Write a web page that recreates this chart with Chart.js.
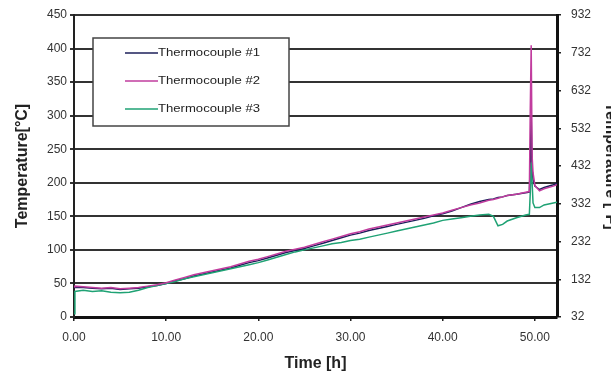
<!DOCTYPE html>
<html>
<head>
<meta charset="utf-8">
<script src="https://cdn.jsdelivr.net/npm/chart.js@4/dist/chart.umd.min.js"></script>
<style>
  html, body { margin: 0; padding: 0; background: #fff; }
  #wrap { width: 611px; height: 379px; overflow: hidden; position: relative; }
  canvas { display: block; }
</style>
</head>
<body>
<div id="wrap"><canvas id="myChart" width="622" height="379"></canvas></div>
<script>
// time in hours
var times = [0, 0.1, 1, 2, 3, 4, 5, 6, 7, 8, 9, 10,
  11, 12, 13, 14, 15, 16, 17, 18, 19, 20,
  21, 22, 23, 24, 25, 26, 27, 28, 29, 30,
  31, 32, 33, 34, 35, 36, 37, 38, 39, 40,
  41, 42, 43, 44, 45,
  45.5, 46, 46.5, 47, 48, 49, 49.4, 49.5, 49.6, 49.7, 49.8, 50, 50.5, 51, 52, 52.4];

var tc1 = [44, 44, 44, 43, 42, 43, 41, 42, 43, 45, 47, 50,
  54, 57, 61, 64, 67, 70, 73, 77, 81, 84,
  88, 92, 96, 99, 102, 106, 110, 114, 118, 122,
  125, 129, 132, 135, 138, 141, 144, 147, 151, 154,
  158, 163, 168, 172, 175,
  176, 178, 179, 181, 183, 185, 186, 230, 300, 220, 205, 195, 190, 193, 197, 199];

var tc2 = [45, 46, 45, 44, 43, 44, 42, 43, 44, 46, 48, 51,
  55, 59, 63, 66, 69, 72, 75, 79, 83, 86,
  90, 94, 98, 101, 104, 108, 112, 116, 120, 124,
  127, 131, 134, 137, 140, 143, 146, 149, 152, 155,
  159, 163, 167, 170, 174,
  175, 177, 179, 181, 183, 186, 187, 310, 405, 240, 215, 196, 188, 191, 195, 197];

var tc3 = [5, 38, 40, 38, 39, 37, 36, 37, 40, 44, 47, 50,
  53, 57, 60, 63, 66, 69, 72, 75, 78, 81,
  85, 89, 93, 97, 100, 103, 106, 109, 111, 114,
  116, 119, 122, 125, 128, 131, 134, 137, 140, 144,
  146, 148, 150, 152, 153,
  150, 136, 138, 143, 148, 152, 153, 185, 230, 200, 170, 163, 163, 167, 170, 171];

var seriesNames = ["Thermocouple #1", "Thermocouple #2", "Thermocouple #3"];
var seriesColors = ["#1c1f5a", "#c13c9e", "#1fa274"];
var drawOrder = [2, 0, 1];

var xTicks = [0, 10, 20, 30, 40, 50];
var rightTicks = [32, 132, 232, 332, 432, 532, 632, 732, 832];
var rightTickLabels = ["32", "132", "232", "332", "432", "532", "632", "732", "932"];

function toPoints(vals) {
  return vals.map(function (v, i) { return { x: times[i], y: v }; });
}

var tickFont = { family: "'Liberation Sans', Arial, sans-serif", size: 12 };
var titleFont = { family: "'Liberation Sans', Arial, sans-serif", size: 16, weight: "bold" };

// legend box drawn inside the plot
var boxLegend = {
  id: "boxLegend",
  afterDatasetsDraw: function (chart) {
    var ctx = chart.ctx;
    ctx.save();
    ctx.fillStyle = "#fff";
    ctx.fillRect(93, 38, 196, 88);
    ctx.strokeStyle = "#444";
    ctx.lineWidth = 1.5;
    ctx.strokeRect(93, 38, 196, 88);
    ctx.font = "11px 'Liberation Sans', Arial, sans-serif";
    ctx.textBaseline = "middle";
    chart.data.datasets.forEach(function (ds, i) {
      var y = 53 + i * 28;
      ctx.strokeStyle = ds.borderColor;
      ctx.lineWidth = 1.3;
      ctx.beginPath();
      ctx.moveTo(125, y);
      ctx.lineTo(158, y);
      ctx.stroke();
      // stretch text to the wide look of the original
      var w = ctx.measureText(ds.label).width;
      ctx.save();
      ctx.translate(158, y);
      ctx.scale(102 / w, 1);
      ctx.fillStyle = "#222";
      ctx.fillText(ds.label, 0, 0);
      ctx.restore();
    });
    ctx.restore();
  }
};

new Chart("myChart", {
  type: "line",
  data: {
    datasets: [0, 1, 2].map(function (i) {
      return {
        label: seriesNames[i],
        data: toPoints([tc1, tc2, tc3][i]),
        borderColor: seriesColors[i],
        borderWidth: 1.5,
        pointRadius: 0,
        tension: 0,
        order: drawOrder[i]
      };
    })
  },
  options: {
    responsive: false,
    animation: false,
    devicePixelRatio: 1,
    layout: { padding: { top: 15, left: 0, right: 0, bottom: 0 } },
    plugins: { legend: { display: false }, tooltip: { enabled: false } },
    scales: {
      x: {
        type: "linear",
        min: 0,
        max: 52.4,
        afterBuildTicks: function (s) { s.ticks = xTicks.map(function (v) { return { value: v }; }); },
        afterFit: function (s) { s.height = 62; s.paddingLeft = 0; s.paddingRight = 0; },
        ticks: { font: tickFont, color: "#333", padding: 9, maxRotation: 0,
          callback: function (v) { return Number(v).toFixed(2); } },
        grid: { drawOnChartArea: false, tickLength: 4, color: "#222", lineWidth: 1.5 },
        border: { color: "#111", width: 3 },
        title: { display: true, text: "Time [h]", font: titleFont, color: "#222", padding: { top: 6, bottom: 6 } }
      },
      y: {
        position: "left",
        min: 0,
        max: 450,
        ticks: { stepSize: 50, font: tickFont, color: "#333", padding: 3 },
        afterFit: function (s) { s.width = 74; s.paddingTop = 0; s.paddingBottom = 0; },
        grid: { color: "#333", lineWidth: 2, tickLength: 4 },
        border: { color: "#222", width: 2 },
        title: { display: true, text: "Temperature[\u00b0C]", font: titleFont, color: "#222", padding: { top: 13, bottom: 0 } }
      },
      y2: {
        position: "right",
        min: 32,
        max: 832,
        afterBuildTicks: function (s) { s.ticks = rightTicks.map(function (v) { return { value: v }; }); },
        afterFit: function (s) { s.width = 622 - 557; s.paddingTop = 0; s.paddingBottom = 0; },
        ticks: { font: tickFont, color: "#333", padding: 10,
          callback: function (v, i) { return rightTickLabels[i]; } },
        grid: { drawOnChartArea: false, tickLength: 4, color: "#222", lineWidth: 1.5 },
        border: { color: "#111", width: 3 },
        title: { display: true, text: "Temperature [\u00b0F]", font: titleFont, color: "#222", padding: { top: 2, bottom: 0 } }
      }
    }
  },
  plugins: [boxLegend]
});
</script>
</body>
</html>
